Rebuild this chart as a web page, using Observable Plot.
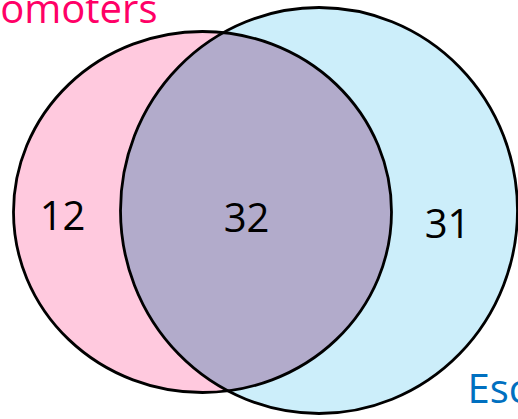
<!DOCTYPE html>
<html>
<head>
<meta charset="utf-8">
<script src="https://cdn.jsdelivr.net/npm/d3@7"></script>
<script src="https://cdn.jsdelivr.net/npm/@observablehq/plot@0.6"></script>
<style>
  html, body { margin: 0; padding: 0; background: #fff; overflow: hidden; }
</style>
</head>
<body>
<div id="chart"></div>
<script>
// Sets (ellipses) in a 518 x 419 layout space
const setNames = ["Promoters", "Esc"];
const circleX = [202, 318.5];
const circleY = [211.5, 210];
const circleRX = [189, 198.5];
const circleRY = [180.5, 203];

// Region counts
const regionLabels = ["12", "32", "31"];
const regionX = [62, 246, 447];
const regionY = [229, 231, 237];

// Set name label anchors
const nameX = [157, 467];
const nameY = [22, 402];

// styles
const setFills = ["#ffc9de", "#cceefa"];
const overlapFill = "#b2abcb";
const nameColors = ["#ff0066", "#0070c0"];

const circles = setNames.map((name, i) => ({name, x: circleX[i], y: circleY[i], r: circleRY[i], k: circleRX[i] / circleRY[i]}));
const regions = regionLabels.map((t, i) => ({t, x: regionX[i], y: regionY[i]}));
const names = setNames.map((name, i) => ({name, x: nameX[i], y: nameY[i], i}));

const svg = Plot.plot({
  width: 518,
  height: 419,
  margin: 0,
  x: {domain: [0, 518], axis: null},
  y: {domain: [0, 419], reverse: true, axis: null},
  r: {type: "identity"},
  style: {background: "#fff", overflow: "hidden"},
  marks: [
    Plot.dot(circles, {x: "x", y: "y", r: "r", sort: null, fill: (d, i) => setFills[i], stroke: "none", fillOpacity: 1}),
    Plot.dot([circles[0]], {x: "x", y: "y", r: "r", sort: null, fill: overlapFill, stroke: "none", fillOpacity: 1}),
    Plot.dot(circles, {x: "x", y: "y", r: "r", sort: null, fill: "none", stroke: "#000", strokeWidth: 2.8}),
    Plot.text(regions, {x: "x", y: "y", text: "t", lineAnchor: "bottom", fontSize: 40, fontFamily: "Open Sans", fill: "#000"}),
    Plot.text(names.filter(d => d.i === 0), {x: "x", y: "y", text: "name", lineAnchor: "bottom", textAnchor: "end", fontSize: 40, fontFamily: "Open Sans", fill: nameColors[0]}),
    Plot.text(names.filter(d => d.i === 1), {x: "x", y: "y", text: "name", lineAnchor: "bottom", textAnchor: "start", fontSize: 40, fontFamily: "Open Sans", fill: nameColors[1]})
  ]
});

const dotGroups = svg.querySelectorAll("g[aria-label='dot']");
// Stretch each circle horizontally into the set's ellipse
dotGroups.forEach((g) => {
  Array.from(g.querySelectorAll("circle")).forEach((c, j) => {
    const idx = typeof c.__data__ === "number" ? c.__data__ : j;
    const k = circles[idx].k;
    const cx = +c.getAttribute("cx"), cy = +c.getAttribute("cy");
    c.setAttribute("transform", `translate(${cx} ${cy}) scale(${k} 1) translate(${-cx} ${-cy})`);
    c.setAttribute("vector-effect", "non-scaling-stroke");
  });
});

// Clip the overlap-coloured copy of the left set to the right set
const rightCircle = dotGroups[0].querySelectorAll("circle")[1];
const ns = "http://www.w3.org/2000/svg";
const defs = document.createElementNS(ns, "defs");
const cp = document.createElementNS(ns, "clipPath");
cp.setAttribute("id", "clip-right");
cp.appendChild(rightCircle.cloneNode(true));
defs.appendChild(cp);
svg.insertBefore(defs, svg.firstChild);
dotGroups[1].setAttribute("clip-path", "url(#clip-right)");

document.getElementById("chart").appendChild(svg);
</script>
</body>
</html>
